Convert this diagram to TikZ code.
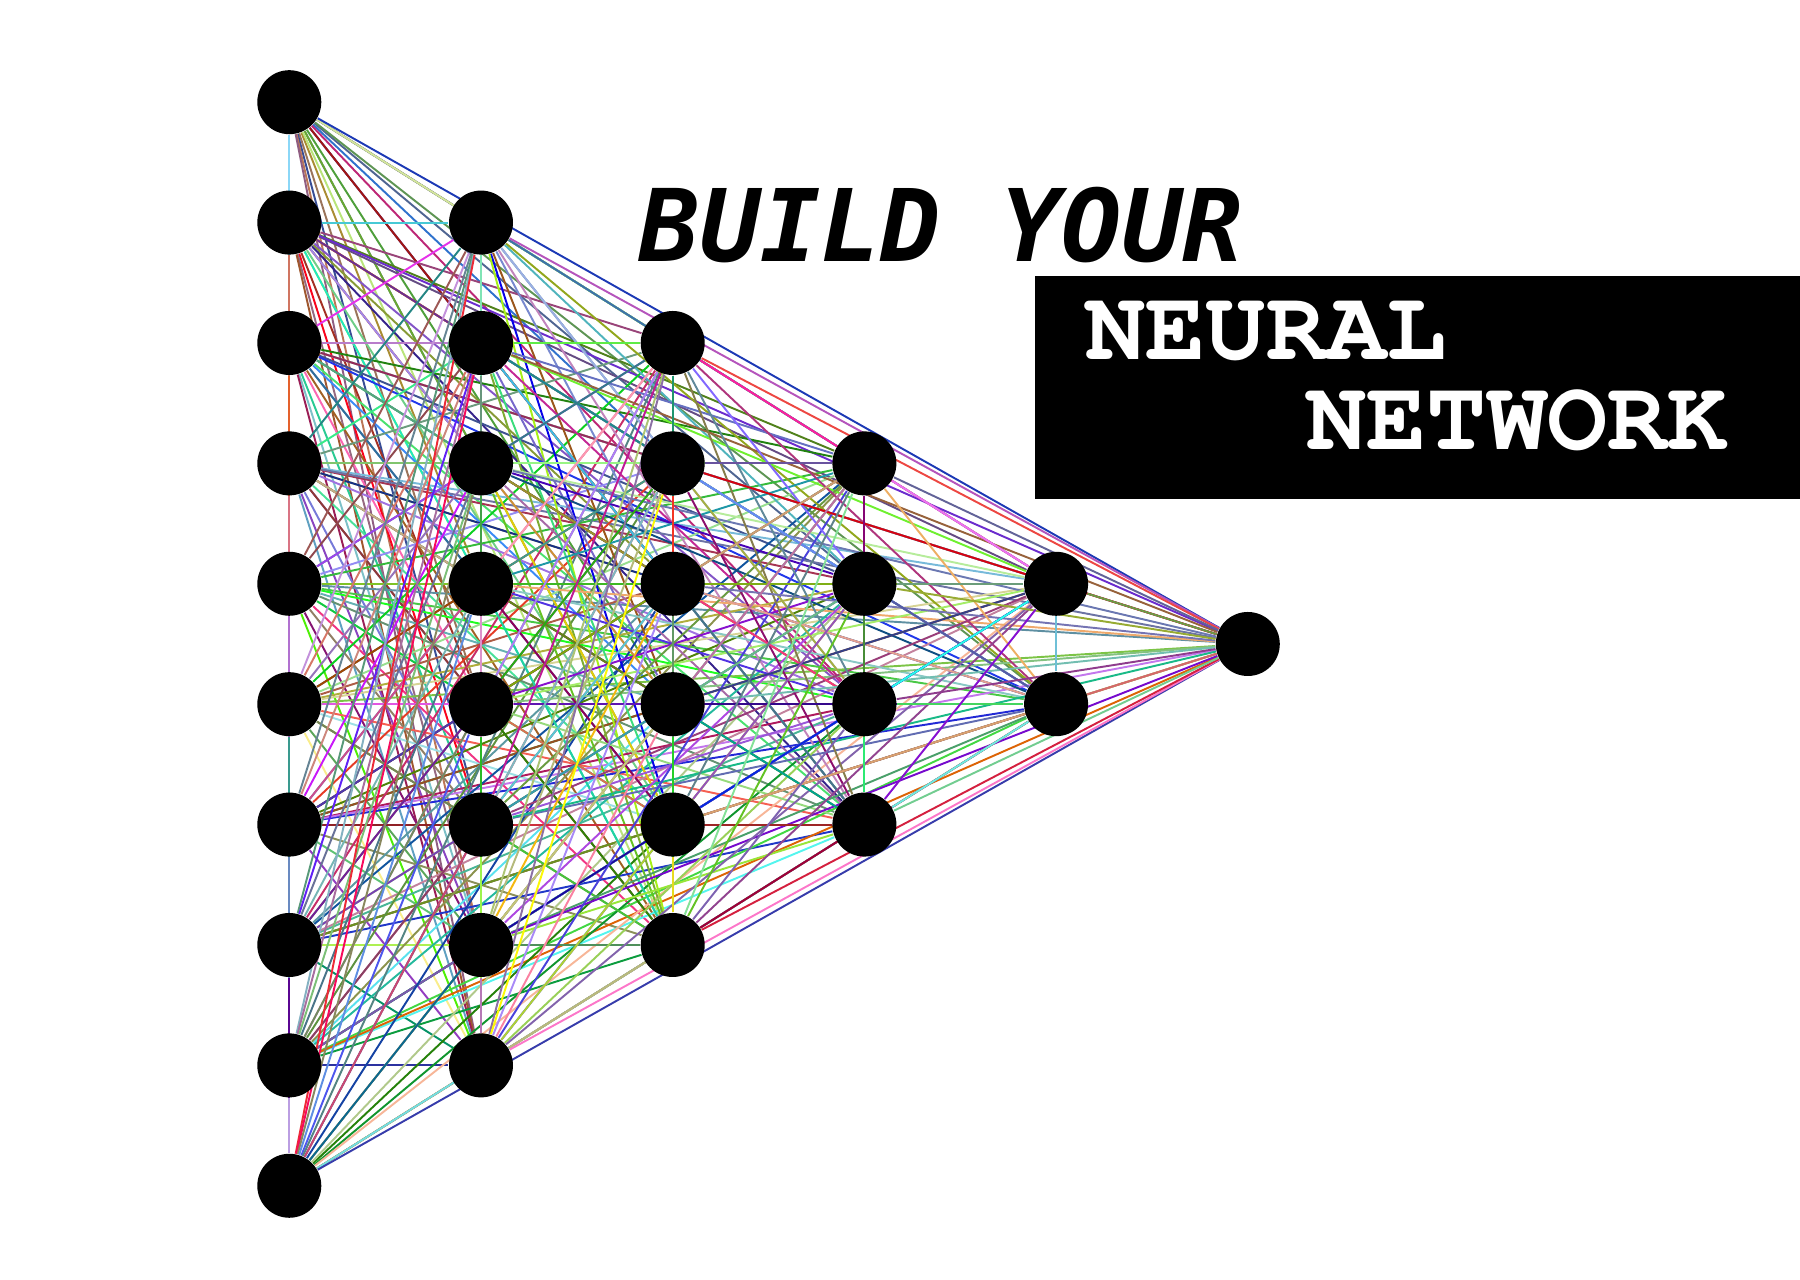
\documentclass[tikz,border=0pt]{standalone}
\usepackage{fontspec}
\usepackage[T1,TU]{fontenc}
\usetikzlibrary{backgrounds}
\newfontfamily\titlefont{DejaVu Sans Mono}
\begin{document}
\begin{tikzpicture}[
  neuron/.style = {circle, fill=black, inner sep=0pt, minimum size=0.64cm},
  edge/.style = {line width=0.55pt},
  title/.style = {anchor=base west, inner sep=0pt,
    font=\titlefont\bfseries\itshape\fontsize{28.5}{31}\selectfont},
  boxtext/.style = {anchor=base west, inner sep=0pt, text=white,
    font=\fontencoding{T1}\fontfamily{pcr}\bfseries\fontsize{28.5}{30}\selectfont}]
  \useasboundingbox (0,0) rectangle (18,-12.8);
  \pgfmathsetseed{11}
  \foreach \n/\off [count=\l from 0] in {10/0,8/10,6/18,4/24,2/28,1/30} {
    \foreach \i in {1,...,\n} {
      \pgfmathtruncatemacro\k{\off+\i}
      \pgfmathsetmacro\ypos{-1.022-1.204*(4.5+\i-(\n+1)/2)}
      \node[neuron] (v\k) at ({2.893+1.917*\l},\ypos) {};
    }
  }
  \begin{scope}[on background layer]
    \foreach \a in {1,...,30} {
      \pgfmathtruncatemacro\s{\a+1}
      \foreach \b in {\s,...,31} {
        \pgfmathsetmacro\hh{rnd}
        \pgfmathsetmacro\ss{0.3+0.7*rnd}
        \pgfmathsetmacro\bb{0.5+0.5*rnd}
        \definecolor{wire}{hsb}{\hh,\ss,\bb}
        \draw[edge, wire] (v\a) -- (v\b);
      }
    }
  \end{scope}
  \node[fill=black, anchor=north west, minimum width=7.66cm, minimum height=2.23cm,
    inner sep=0pt] (banner) at (10.34,-2.75) {};
  \node[title] (build) at (6.39,-2.62) {BUILD YOUR};
  \node[boxtext] (neural) at (10.85,-3.60) {NEURAL};
  \node[boxtext] (network) at (13.06,-4.50) {NETWORK};
\end{tikzpicture}
\end{document}
